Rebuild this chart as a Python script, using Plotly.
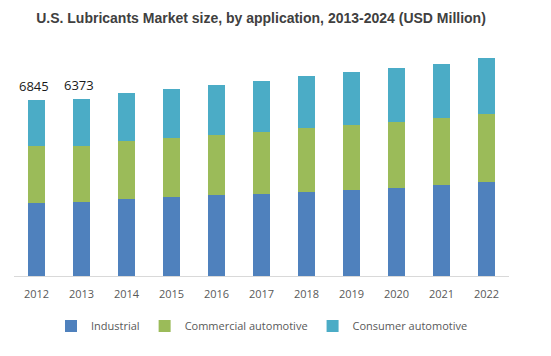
import plotly.graph_objects as go

years = ["2012", "2013", "2014", "2015", "2016", "2017", "2018", "2019", "2020", "2021", "2022"]
industrial = [2840, 2878, 2971, 3049, 3138, 3177, 3266, 3343, 3421, 3525, 3642]
commercial = [2196, 2158, 2247, 2286, 2324, 2414, 2468, 2518, 2572, 2596, 2634]
consumer = [1809, 1848, 1883, 1937, 1937, 1976, 2014, 2042, 2092, 2119, 2181]
value_labels = ["6845", "6373", "", "", "", "", "", "", "", "", ""]

series = [
    ("Industrial", industrial, "#4F81BD"),
    ("Commercial automotive", commercial, "#9BBB59"),
    ("Consumer automotive", consumer, "#4BACC6"),
]

fig = go.Figure()
for name, vals, color in series:
    fig.add_trace(go.Bar(x=years, y=vals, name=name, marker=dict(color=color, line=dict(width=0))))

totals = [a + b + c for a, b, c in zip(industrial, commercial, consumer)]
for i, (tot, lab) in enumerate(zip(totals, value_labels)):
    if lab:
        fig.add_annotation(x=i, y=tot, text=lab, showarrow=False, yanchor="bottom",
                           xshift=-3, yshift=3,
                           font=dict(family="Open Sans", size=13, color="#1a1a1a"))

fig.update_layout(
    width=551, height=356,
    barmode="stack", bargap=0.61,
    plot_bgcolor="white", paper_bgcolor="white",
    margin=dict(l=14, r=42, t=44, b=80),
    title=dict(text="<b>U.S. Lubricants Market size, by application, 2013-2024 (USD Million)</b>",
               x=261/551, xref="container", xanchor="center",
               y=1-17.6/356, yref="container", yanchor="middle",
               font=dict(family="Liberation Sans", size=14, color="#404040")),
    xaxis=dict(type="category", categoryorder="array", categoryarray=years,
               range=[-0.5, len(years) - 0.5],
               showline=True, linecolor="#D9D9D9", linewidth=1,
               ticks="", ticklabelstandoff=8, showgrid=False,
               tickfont=dict(family="Open Sans", size=11, color="#595959")),
    yaxis=dict(visible=False, range=[0, 9000]),
    legend=dict(orientation="h", x=(262-14)/495, xanchor="center", y=-50/232, yanchor="middle",
                font=dict(family="Open Sans", size=11, color="#595959"),
                traceorder="normal", itemwidth=30),
    showlegend=True,
)

fig.write_html("out.html", config={"displayModeBar": False},
               post_script="document.body.style.margin='0';document.body.style.padding='0';")
